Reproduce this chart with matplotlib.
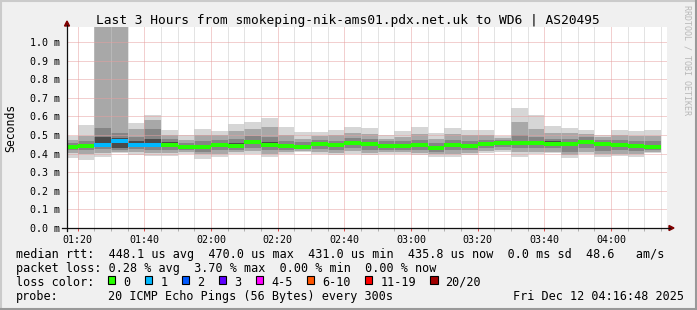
import numpy as np
import matplotlib
matplotlib.use('Agg')
import matplotlib.pyplot as plt
from matplotlib.lines import Line2D
from matplotlib.patches import Rectangle, Polygon
from matplotlib.ticker import MultipleLocator, FuncFormatter

plt.rcParams['font.family'] = ['DejaVu Sans Mono', 'DejaVu Sans']

W, H = 697, 310

title = 'Last 3 Hours from smokeping-nik-ams01.pdx.net.uk to WD6 | AS20495'
view_start = '01:16:48'
view_end = '04:16:48'

# one 5 minute slot per bar, start time
slot_labels = ['01:15', '01:20', '01:25', '01:30', '01:35', '01:40', '01:45', '01:50', '01:55',
               '02:00', '02:05', '02:10', '02:15', '02:20', '02:25', '02:30', '02:35', '02:40',
               '02:45', '02:50', '02:55', '03:00', '03:05', '03:10', '03:15', '03:20', '03:25',
               '03:30', '03:35', '03:40', '03:45', '03:50', '03:55', '04:00', '04:05', '04:10']

# all rtt values in ms
median_ms = [0.437, 0.443, 0.448, 0.470, 0.448, 0.448, 0.448, 0.434, 0.434,
             0.447, 0.443, 0.463, 0.446, 0.441, 0.437, 0.452, 0.446, 0.457,
             0.449, 0.441, 0.441, 0.446, 0.432, 0.446, 0.443, 0.452, 0.455,
             0.458, 0.457, 0.454, 0.452, 0.464, 0.452, 0.446, 0.441, 0.436]
loss_count = [0, 0, 1, 1, 1, 1, 0, 0, 0,
              0, 0, 0, 0, 0, 0, 0, 0, 0,
              0, 0, 0, 0, 0, 0, 0, 0, 0,
              0, 0, 0, 0, 0, 0, 0, 0, 0]
rtt_min = [0.375, 0.366, 0.379, 0.405, 0.390, 0.385, 0.385, 0.400, 0.370,
           0.384, 0.397, 0.400, 0.384, 0.397, 0.407, 0.397, 0.393, 0.400,
           0.390, 0.397, 0.397, 0.393, 0.384, 0.384, 0.393, 0.402, 0.411,
           0.384, 0.397, 0.402, 0.375, 0.397, 0.379, 0.389, 0.379, 0.402]
rtt_q10 = [0.405, 0.395, 0.405, 0.410, 0.410, 0.405, 0.405, 0.410, 0.395,
           0.400, 0.410, 0.415, 0.400, 0.410, 0.415, 0.410, 0.405, 0.415,
           0.405, 0.410, 0.410, 0.405, 0.400, 0.400, 0.405, 0.415, 0.420,
           0.410, 0.410, 0.410, 0.390, 0.410, 0.395, 0.400, 0.395, 0.410]
rtt_q25 = [0.420, 0.418, 0.425, 0.418, 0.425, 0.420, 0.420, 0.420, 0.410,
           0.420, 0.420, 0.430, 0.420, 0.420, 0.425, 0.425, 0.420, 0.430,
           0.420, 0.420, 0.420, 0.420, 0.410, 0.420, 0.420, 0.430, 0.435,
           0.430, 0.430, 0.430, 0.410, 0.430, 0.415, 0.420, 0.415, 0.420]
rtt_q40 = [0.432, 0.435, 0.440, 0.430, 0.440, 0.438, 0.440, 0.428, 0.425,
           0.440, 0.435, 0.450, 0.438, 0.432, 0.432, 0.445, 0.438, 0.448,
           0.440, 0.433, 0.433, 0.438, 0.424, 0.438, 0.435, 0.445, 0.448,
           0.450, 0.450, 0.446, 0.440, 0.455, 0.440, 0.438, 0.432, 0.430]
rtt_q60 = [0.445, 0.452, 0.490, 0.485, 0.470, 0.480, 0.460, 0.443, 0.445,
           0.455, 0.455, 0.475, 0.460, 0.452, 0.447, 0.460, 0.455, 0.468,
           0.460, 0.450, 0.450, 0.455, 0.440, 0.455, 0.452, 0.460, 0.462,
           0.470, 0.470, 0.465, 0.460, 0.475, 0.460, 0.455, 0.450, 0.445]
rtt_q75 = [0.455, 0.465, 0.537, 0.510, 0.490, 0.530, 0.480, 0.455, 0.465,
           0.475, 0.480, 0.495, 0.490, 0.470, 0.460, 0.475, 0.470, 0.485,
           0.480, 0.465, 0.465, 0.475, 0.455, 0.475, 0.470, 0.475, 0.472,
           0.500, 0.490, 0.480, 0.480, 0.490, 0.475, 0.475, 0.470, 0.465]
rtt_q90 = [0.475, 0.492, 1.200, 1.200, 0.530, 0.580, 0.500, 0.475, 0.500,
           0.500, 0.520, 0.530, 0.540, 0.500, 0.480, 0.495, 0.500, 0.510,
           0.505, 0.480, 0.490, 0.505, 0.480, 0.505, 0.500, 0.500, 0.485,
           0.570, 0.530, 0.510, 0.510, 0.505, 0.490, 0.500, 0.495, 0.495]
rtt_max = [0.495, 0.554, 1.200, 1.200, 0.566, 0.607, 0.527, 0.500, 0.532,
           0.520, 0.559, 0.568, 0.593, 0.543, 0.514, 0.514, 0.527, 0.540,
           0.536, 0.500, 0.521, 0.543, 0.509, 0.540, 0.527, 0.527, 0.496,
           0.646, 0.607, 0.548, 0.539, 0.527, 0.500, 0.527, 0.521, 0.527]

x_tick_labels = ['01:20', '01:40', '02:00', '02:20', '02:40', '03:00', '03:20', '03:40', '04:00']

loss_labels = ['0', '1', '2', '3', '4-5', '6-10', '11-19', '20/20']
loss_colors = ['#26ff00', '#00b8ff', '#0059ff', '#5e00ff', '#ff00ff', '#ff5500', '#ff0000', '#a10000']
loss_upper = [0, 1, 2, 3, 5, 10, 19, 20]

stats_line = ('median rtt:  448.1 us avg  470.0 us max  431.0 us min  435.8 us now'
              '  0.0 ms sd  48.6   am/s')
loss_line = 'packet loss: 0.28 % avg  3.70 % max  0.00 % min  0.00 % now'
probe_text = '20 ICMP Echo Pings (56 Bytes) every 300s'
stamp_text = 'Fri Dec 12 04:16:48 2025'


def to_min(s):
    p = [int(v) for v in s.split(':')]
    return p[0] * 60 + p[1] + (p[2] / 60 if len(p) > 2 else 0)


def loss_color(n):
    for up, c in zip(loss_upper, loss_colors):
        if n <= up:
            return c
    return loss_colors[-1]


def fx(x):
    return x / W


def fy(y):
    return 1 - y / H


fig = plt.figure(figsize=(W / 100, H / 100), dpi=100, facecolor='#F0F0F0')
ax = fig.add_axes([fx(67), fy(228), 600 / W, 201 / H])
ax.set_facecolor('white')

t0 = np.array([to_min(s) for s in slot_labels])
bands = [(rtt_min, rtt_max, '#D6D6D6'),
         (rtt_q10, rtt_q90, '#A8A8A8'),
         (rtt_q25, rtt_q75, '#858585'),
         (rtt_q40, rtt_q60, '#4A4A4A')]
for lo, hi, c in bands:
    lo = np.array(lo)
    hi = np.array(hi)
    ax.bar(t0, hi - lo, bottom=lo, width=5, align='edge', color=c, linewidth=0,
           antialiased=False, zorder=1)

ax.hlines(median_ms, t0, t0 + 5, colors=[loss_color(n) for n in loss_count], lw=1.5,
          antialiased=False, zorder=3)

ax.set_xlim(to_min(view_start), to_min(view_end))
ax.set_ylim(0, 1.08)
ax.set_xticks([to_min(s) for s in x_tick_labels])
ax.set_xticklabels(x_tick_labels)
ax.xaxis.set_minor_locator(MultipleLocator(5))
ax.yaxis.set_major_locator(MultipleLocator(0.1))
ax.yaxis.set_major_formatter(FuncFormatter(lambda v, p: f'{v:.1f} m'))
for s in ax.spines.values():
    s.set_visible(False)
ax.set_axisbelow(False)
ax.grid(which='major', color='#E6A0A0', lw=0.72, linestyle=(0, (1, 1)))
ax.grid(which='minor', axis='x', color='#C8C8C8', lw=0.72, linestyle=(0, (1, 1)))
ax.tick_params(axis='y', length=0, pad=5, labelsize=7.2)
ax.tick_params(axis='x', which='major', length=2, width=0.72, color='#DE5050', pad=3.2, labelsize=7.2)
ax.tick_params(axis='x', which='minor', length=2, width=0.72, color='#B0B0B0')

# axes with arrows
fig.add_artist(Line2D([fx(62), fx(670)], [fy(228), fy(228)], color='#101010', lw=0.9))
fig.add_artist(Line2D([fx(67), fx(67)], [fy(231), fy(25)], color='#101010', lw=0.9))
fig.add_artist(Polygon([[fx(669), fy(225.5)], [fx(674), fy(228)], [fx(669), fy(230.5)]],
                       closed=True, color='#800000', transform=fig.transFigure))
fig.add_artist(Polygon([[fx(64.5), fy(26)], [fx(67), fy(21)], [fx(69.5), fy(26)]],
                       closed=True, color='#800000', transform=fig.transFigure))

fig.text(fx(347.5), fy(24), title, ha='center', va='baseline', fontsize=9.3)
fig.text(fx(11), fy(127.5), 'Seconds', rotation=90, ha='center', va='center', fontsize=8.3)
fig.text(fx(687.5), fy(60), 'RRDTOOL / TOBI OETIKER', rotation=-90, ha='center', va='center',
         fontsize=6, color='#B8B8B8')

# legend block
cw = 7.1
fs = 8.5
fig.text(fx(16), fy(257.7), stats_line, ha='left', va='baseline', fontsize=fs)
fig.text(fx(16), fy(271.7), loss_line, ha='left', va='baseline', fontsize=fs)
fig.text(fx(16), fy(285.7), 'loss color:', ha='left', va='baseline', fontsize=fs)
fig.text(fx(16), fy(300), 'probe:', ha='left', va='baseline', fontsize=fs)
fig.text(fx(16 + 13 * cw), fy(300), probe_text, ha='left', va='baseline', fontsize=fs)
fig.text(fx(16 + 70 * cw), fy(300), stamp_text, ha='left', va='baseline', fontsize=fs)
col = 12.96
for lab, c in zip(loss_labels, loss_colors):
    bx = 16 + col * cw
    fig.add_artist(Rectangle((fx(bx), fy(283.5)), 7.3 / W, 7.3 / H, facecolor=c, edgecolor='black',
                             lw=0.8, transform=fig.transFigure))
    col += 2.15
    fig.text(fx(16 + col * cw), fy(285.7), lab, ha='left', va='baseline', fontsize=fs)
    col += len(lab) + 2.05

# 3d frame
fig.add_artist(Line2D([0, 1], [fy(1), fy(1)], color='#CBCBCB', lw=1.5))
fig.add_artist(Line2D([fx(1), fx(1)], [0, 1], color='#CBCBCB', lw=1.5))
fig.add_artist(Line2D([0, 1], [fy(309), fy(309)], color='#999999', lw=1.5))
fig.add_artist(Line2D([fx(696), fx(696)], [0, 1], color='#999999', lw=1.5))

fig.savefig('out.png', dpi=100, facecolor=fig.get_facecolor())
